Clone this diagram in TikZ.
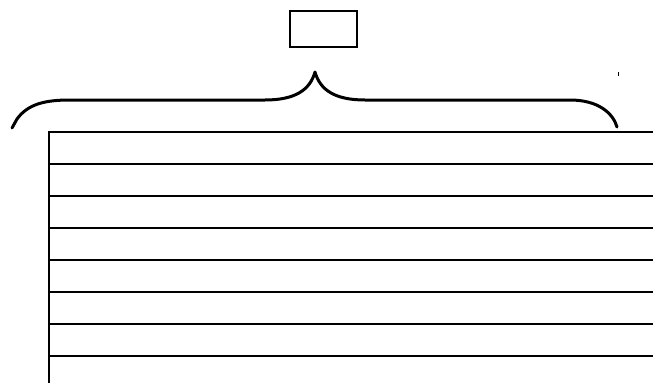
\documentclass[tikz,border=0pt]{standalone}
\begin{document}
\begin{tikzpicture}[x=1pt,y=-1pt,
  bracestyle/.style={line width=3pt,line cap=round,line join=round},
  rulestyle/.style={line width=2pt},
  boxstyle/.style={draw,line width=1.2pt,minimum width=67pt,minimum height=36pt,inner sep=0pt}]
\useasboundingbox (0,0) rectangle (653,383);
\node[boxstyle] (box) at (323.5,29) {};
\draw[bracestyle] (12,128) -- (17,119) .. controls (28,104) and (45,100) .. (70,100) -- (265,100)
  .. controls (295,100) and (310,90) .. (315,72)
  .. controls (320,90) and (335,100) .. (365,100) -- (570,100)
  .. controls (598,100) and (613,113) .. (617,127);
\draw[line width=1pt] (618,71.5) -- (618,75.5);
\draw[rulestyle] (49,132) -- (49,383);
\foreach \yy in {132,163.7,196,228.3,260,291.7,323.7,355.7}
  \draw[rulestyle] (48,\yy) -- (653,\yy);
\end{tikzpicture}
\end{document}
